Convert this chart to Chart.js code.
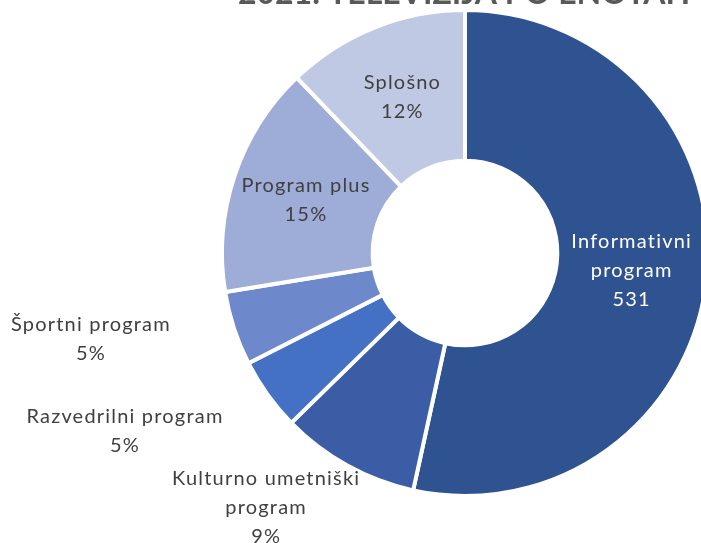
<!DOCTYPE html>
<html>
<head>
<meta charset="utf-8">
<script src="https://cdn.jsdelivr.net/npm/chart.js@4/dist/chart.umd.min.js"></script>
<style>
  html, body { margin: 0; padding: 0; background: #fff; overflow: hidden; }
  #wrap { position: relative; width: 730px; height: 543px; }
</style>
</head>
<body>
<div id="wrap"><canvas id="chart"></canvas></div>
<script>
// Chart data
const chartTitle = '2021: TELEVIZIJA PO ENOTAH';
const categories = [
  ['Informativni', 'program'],
  ['Kulturno umetniški', 'program'],
  ['Razvedrilni program'],
  ['Športni program'],
  ['Program plus'],
  ['Splošno']
];
const values = [531, 92, 48, 49, 153, 121];

// Styling per slice
const sliceColors = ['#2F5290', '#3A5DA6', '#4471C3', '#6E89CB', '#9EACD8', '#C0C9E4'];
const labelColors = ['#ffffff', '#404040', '#404040', '#404040', '#404040', '#404040'];
const showValue = [true, false, false, false, false, false];
// where each label sits: radius factor of outer radius (null = middle of the ring) and angle nudge in degrees
const labelRadius = [null, 1.33, 1.58, 1.58, null, null];
const labelNudge = [0, 9, 8, 5.1, 0, 0];

const total = values.reduce((a, b) => a + b, 0);

// Plugin that writes the slice labels
const sliceLabels = {
  id: 'sliceLabels',
  afterDatasetsDraw(chart) {
    const ctx = chart.ctx;
    const meta = chart.getDatasetMeta(0);
    ctx.save();
    ctx.font = '20px Lato';
    ctx.letterSpacing = '1.2px';
    ctx.textAlign = 'center';
    ctx.textBaseline = 'middle';
    meta.data.forEach((arc, i) => {
      const p = arc.getProps(['x', 'y', 'startAngle', 'endAngle', 'innerRadius', 'outerRadius'], true);
      const mid = (p.startAngle + p.endAngle) / 2 + labelNudge[i] * Math.PI / 180;
      const r = labelRadius[i] === null ? (p.innerRadius + p.outerRadius) / 2 : p.outerRadius * labelRadius[i];
      const cx = p.x + Math.cos(mid) * r;
      const cy = p.y + Math.sin(mid) * r;
      const pct = Math.round(values[i] / total * 100) + '%';
      const lines = categories[i].concat([showValue[i] ? String(values[i]) : pct]);
      const lh = 29;
      const top = cy - (lines.length - 1) * lh / 2;
      ctx.fillStyle = labelColors[i];
      lines.forEach((t, k) => ctx.fillText(t, cx, top + k * lh));
    });
    ctx.restore();
  }
};

// Plugin that writes the (partly cut) title
const topTitle = {
  id: 'topTitle',
  afterDraw(chart) {
    const ctx = chart.ctx;
    const meta = chart.getDatasetMeta(0);
    const cx = meta.data[0].x;
    ctx.save();
    ctx.font = 'bold 32px Lato';
    ctx.fillStyle = '#595959';
    ctx.textAlign = 'center';
    ctx.textBaseline = 'alphabetic';
    ctx.fillText(chartTitle, cx - 1, 4);
    ctx.restore();
  }
};

new Chart(document.getElementById('chart'), {
  type: 'doughnut',
  data: {
    labels: categories,
    datasets: [{
      data: values,
      backgroundColor: sliceColors,
      borderColor: '#ffffff',
      borderWidth: 4,
      hoverOffset: 0,
      hoverBorderWidth: 0
    }]
  },
  options: {
    responsive: true,
    maintainAspectRatio: false,
    animation: false,
    cutout: '38%',
    layout: { padding: { top: 8, bottom: 45, left: 202, right: 2 } },
    plugins: {
      legend: { display: false },
      tooltip: { enabled: false },
      title: { display: false }
    }
  },
  plugins: [sliceLabels, topTitle]
});
</script>
</body>
</html>
